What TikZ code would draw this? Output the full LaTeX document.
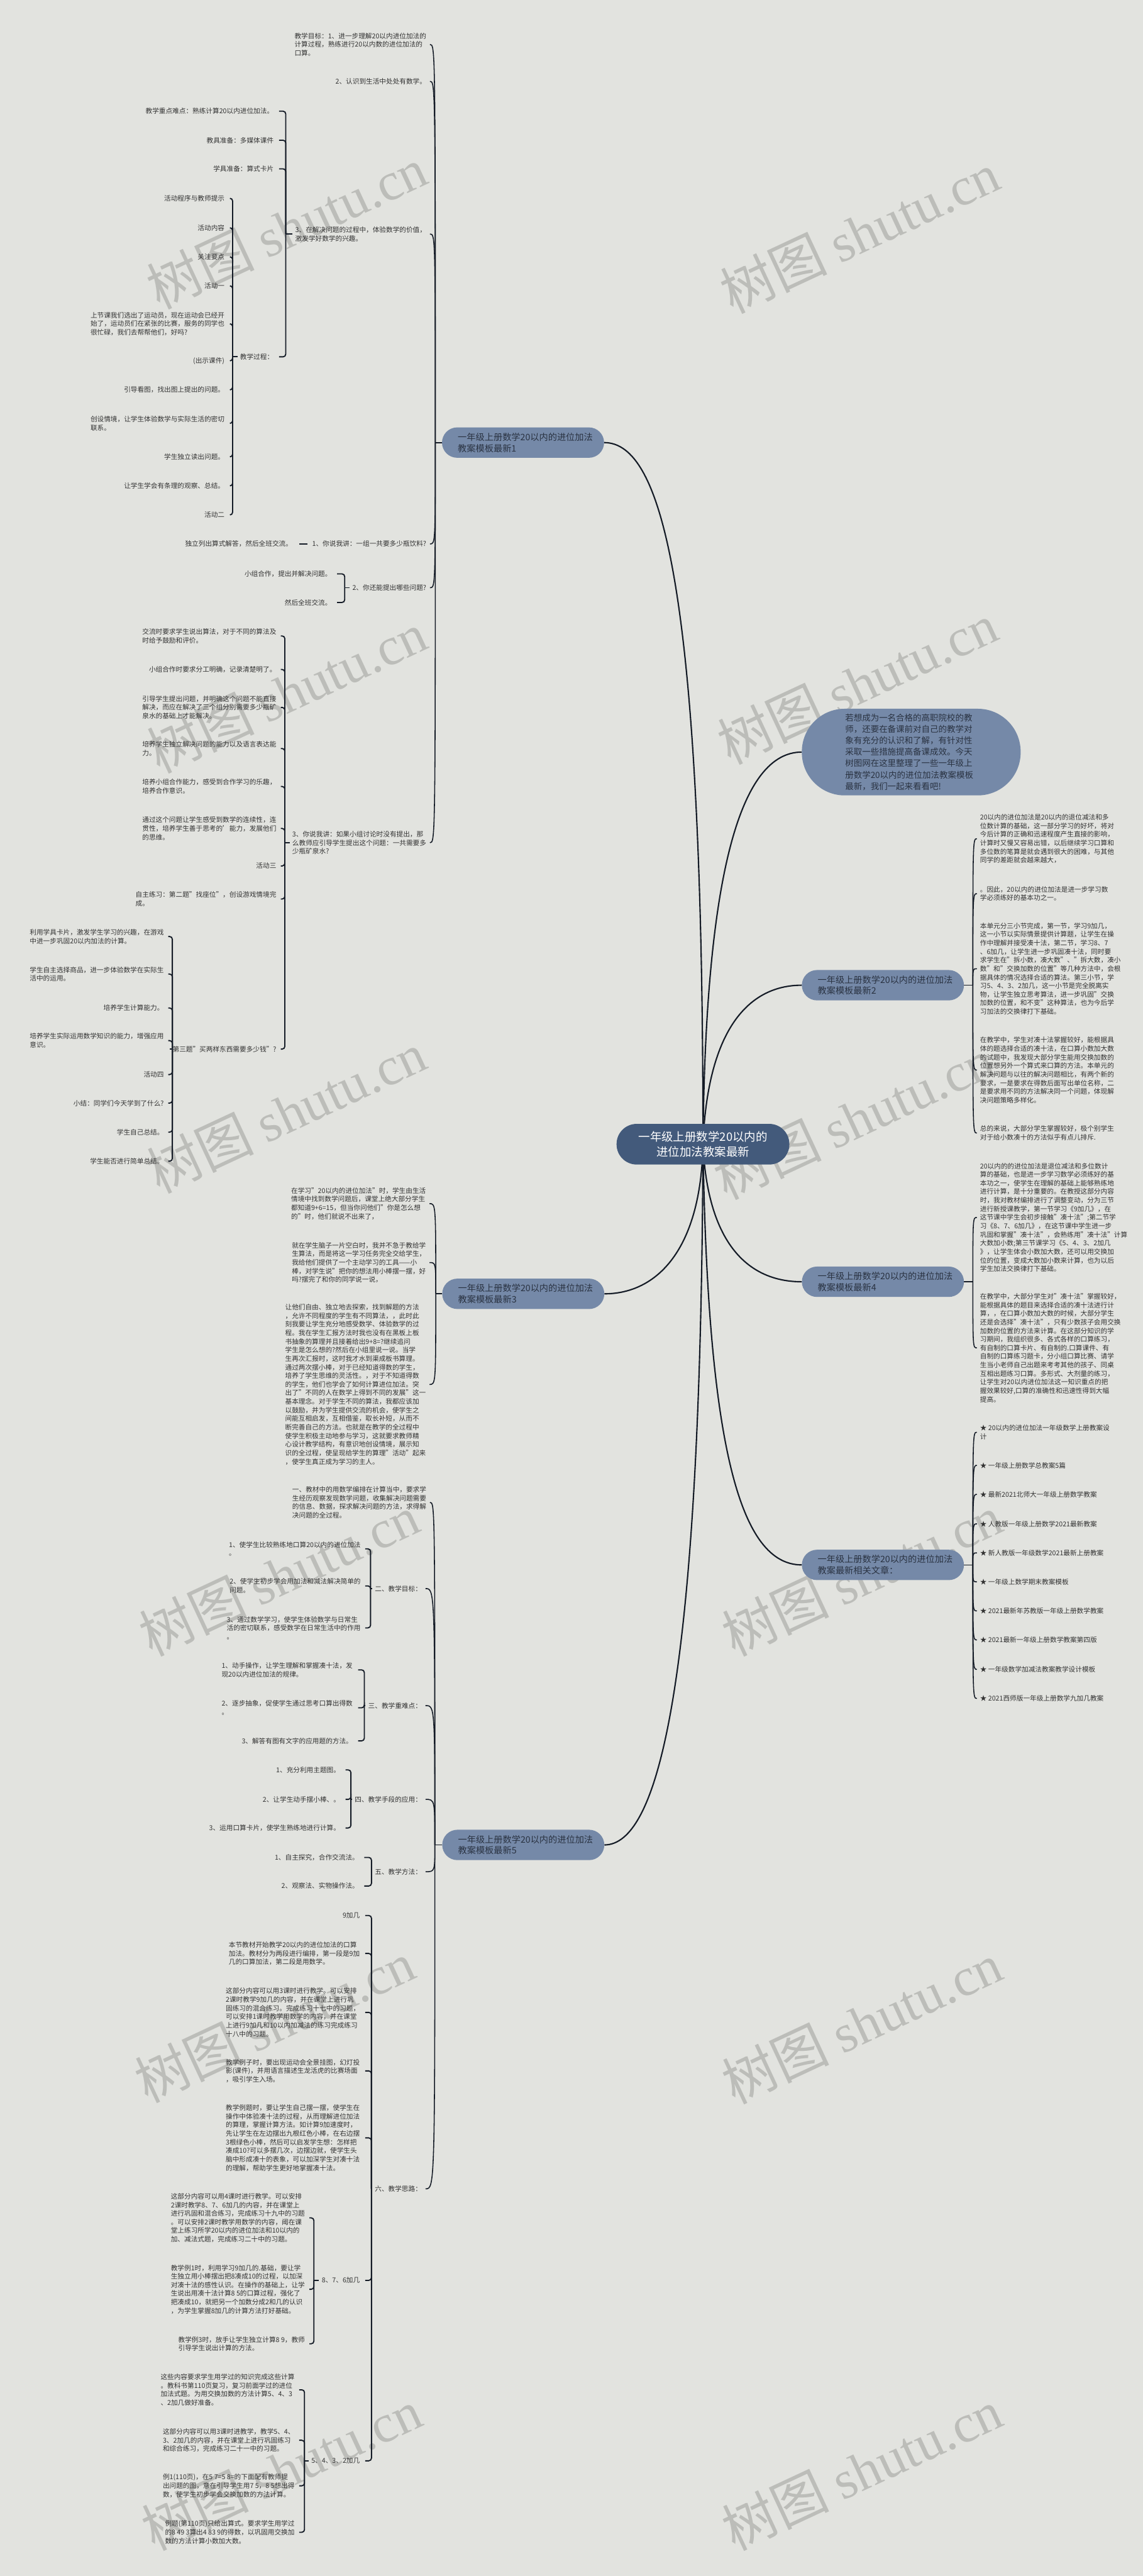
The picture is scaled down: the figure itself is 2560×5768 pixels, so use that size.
\documentclass[tikz,border=0pt]{standalone}
\usepackage{fontspec}
\setmainfont{Noto Sans CJK SC}
\newfontfamily\wmserif{Liberation Serif}
\usetikzlibrary{calc}
\definecolor{bgc}{HTML}{E2E3DF}
\definecolor{brc}{HTML}{7589A8}
\definecolor{rootc}{HTML}{435A7B}
\definecolor{linec}{HTML}{141B26}
\definecolor{txtc}{HTML}{333333}
\definecolor{btxt}{HTML}{2A3342}
\definecolor{wmc}{HTML}{BCBDB9}
\newcommand\leaffont{\fontsize{15pt}{19.2pt}\selectfont}
\newcommand\brfont{\fontsize{20pt}{25pt}\selectfont}
\newcommand\rootfont{\fontsize{26pt}{34pt}\selectfont}
\newcommand\introfont{\fontsize{19pt}{25.5pt}\selectfont}
\newcommand\wmkfont{\fontsize{120pt}{120pt}\selectfont}
\pgfdeclarelayer{wm}\pgfdeclarelayer{back}
\pgfsetlayers{wm,back,main}
\begin{document}
\begin{tikzpicture}[x=1pt,y=-1pt,
  L/.style={anchor=east,align=left,inner sep=0pt,text=txtc,font=\leaffont},
  R/.style={anchor=west,align=left,inner sep=0pt,text=txtc,font=\leaffont},
  bnode/.style={fill=brc,rounded corners=34pt,minimum width=363pt,minimum height=68pt,text width=292pt,align=left,font=\brfont,text=btxt,inner sep=0pt},
  rootn/.style={fill=rootc,rounded corners=45pt,minimum width=387pt,minimum height=91pt,align=center,font=\rootfont,text=white,inner sep=0pt},
  intron/.style={fill=brc,rounded corners=96pt,minimum width=490pt,minimum height=194pt,text width=296pt,align=left,font=\introfont,text=btxt,inner sep=0pt},
  lf/.style={line width=2.2pt,draw=linec},
  br/.style={line width=2.6pt,draw=linec,rounded corners=6pt},
  mainln/.style={line width=3pt,draw=linec},
  wmark/.style={rotate=25,text=wmc,font=\wmkfont,inner sep=0pt}
]
\begin{pgfonlayer}{wm}
\fill[bgc] (0,0) rectangle (2560,5768);
\foreach \x/\y [count=\i] in {642/510,1925/520,642/1550,1920/1530,641/2490,1912/2505,625/3527,1930/3527,615/4527,1930/4530,630/5530,1930/5530}
  \node[wmark] (wm\i) at (\x,\y) {树图 {\wmserif shutu.cn}};
\end{pgfonlayer}
\useasboundingbox (0,0) rectangle (2560,5768);

% ---------- main nodes ----------
\node[rootn] (root) at (1574.5,2562) {一年级上册数学20以内的\\进位加法教案最新};
\node[intron] (intro) at (2041,1684) {若想成为一名合格的高职院校的教\\师，还要在备课前对自己的教学对\\象有充分的认识和了解，有针对性\\采取一些措施提高备课成效。今天\\树图网在这里整理了一些一年级上\\册数学20以内的进位加法教案模板\\最新，我们一起来看看吧!};
\node[bnode] (b1) at (1171.5,991) {一年级上册数学20以内的进位加法\\教案模板最新1};
\node[bnode] (b3) at (1172,2897) {一年级上册数学20以内的进位加法\\教案模板最新3};
\node[bnode] (b5) at (1172,4131) {一年级上册数学20以内的进位加法\\教案模板最新5};
\node[bnode] (b2) at (1977.5,2206) {一年级上册数学20以内的进位加法\\教案模板最新2};
\node[bnode] (b4) at (1977.5,2870) {一年级上册数学20以内的进位加法\\教案模板最新4};
\node[bnode] (b6) at (1977.5,3504) {一年级上册数学20以内的进位加法\\教案最新相关文章：};

% ---------- branch 1 ----------
\node[L] (a1) at (955,99.5) {教学目标：1、进一步理解20以内进位加法的\\计算过程，熟练进行20以内数的进位加法的\\口算。};
\node[L] (a2) at (955,182) {2、认识到生活中处处有数学。};
\node[L] (a3) at (955,524) {3、在解决问题的过程中，体验数学的价值，\\激发学好数学的兴趣。};
\node[L] (a4) at (955,1218) {1、你说我讲：一组一共要多少瓶饮料?};
\node[L] (a5) at (955,1316) {2、你还能提出哪些问题?};
\node[L] (a6) at (955,1887) {3、你说我讲：如果小组讨论时没有提出，那\\么教师应引导学生提出这个问题：一共需要多\\少瓶矿泉水?};

\node[L] (a31) at (613,249) {教学重点难点：熟练计算20以内进位加法。};
\node[L] (a32) at (613,314) {教具准备：多媒体课件};
\node[L] (a33) at (613,378) {学具准备：算式卡片};
\node[L] (a34) at (613,799) {教学过程：};

\node[L] (p1) at (503,444) {活动程序与教师提示};
\node[L] (p2) at (503,510) {活动内容};
\node[L] (p3) at (503,575) {关注要点};
\node[L] (p4) at (503,640) {活动一};
\node[L] (p5) at (503,725) {上节课我们选出了运动员，现在运动会已经开\\始了，运动员们在紧张的比赛，服务的同学也\\很忙碌，我们去帮帮他们，好吗?};
\node[L] (p6) at (503,808) {(出示课件)};
\node[L] (p7) at (503,873) {引导看图，找出图上提出的问题。};
\node[L] (p8) at (503,948) {创设情境，让学生体验数学与实际生活的密切\\联系。};
\node[L] (p9) at (503,1023) {学生独立读出问题。};
\node[L] (p10) at (503,1088) {让学生学会有条理的观察、总结。};
\node[L] (p11) at (503,1153) {活动二};

\node[L] (a41) at (655,1218) {独立列出算式解答，然后全班交流。};
\node[L] (a51) at (743,1285) {小组合作，提出并解决问题。};
\node[L] (a52) at (743,1349) {然后全班交流。};

\node[L] (q1) at (619,1424) {交流时要求学生说出算法，对于不同的算法及\\时给予鼓励和评价。};
\node[L] (q2) at (619,1499) {小组合作时要求分工明确，记录清楚明了。};
\node[L] (q3) at (619,1584) {引导学生提出问题，并明确这个问题不能直接\\解决，而应在解决了三个组分别需要多少瓶矿\\泉水的基础上才能解决。};
\node[L] (q4) at (619,1676) {培养学生独立解决问题的能力以及语言表达能\\力。};
\node[L] (q5) at (619,1761) {培养小组合作能力，感受到合作学习的乐趣，\\培养合作意识。};
\node[L] (q6) at (619,1855) {通过这个问题让学生感受到数学的连续性，连\\贯性，培养学生善于思考的'能力，发展他们\\的思维。};
\node[L] (q7) at (619,1939) {活动三};
\node[L] (q8) at (619,2013) {自主练习：第二题"找座位"，创设游戏情境完\\成。};
\node[L] (q9) at (619,2349) {第三题"买两样东西需要多少钱"?};

\node[L] (r1) at (367,2097) {利用学具卡片，激发学生学习的兴趣，在游戏\\中进一步巩固20以内加法的计算。};
\node[L] (r2) at (367,2181) {学生自主选择商品，进一步体验数学在实际生\\活中的运用。};
\node[L] (r3) at (367,2257) {培养学生计算能力。};
\node[L] (r4) at (367,2330) {培养学生实际运用数学知识的能力，增强应用\\意识。};
\node[L] (r5) at (367,2406) {活动四};
\node[L] (r6) at (367,2470) {小结：同学们今天学到了什么?};
\node[L] (r7) at (367,2535) {学生自己总结。};
\node[L] (r8) at (367,2600) {学生能否进行简单总结。};

% ---------- branch 3 ----------
\node[L] (d1) at (954,2695) {在学习"20以内的进位加法"时，学生由生活\\情境中找到数学问题后，课堂上绝大部分学生\\都知道9+6=15，但当你问他们"你是怎么想\\的"时，他们就说不出来了，};
\node[L] (d2) at (954,2827) {就在学生脑子一片空白时，我并不急于教给学\\生算法，而是将这一学习任务完全交给学生，\\我给他们提供了一个主动学习的工具——小\\棒，对学生说"把你的想法用小棒摆一摆，好\\吗?摆完了和你的同学说一说，};
\node[L] (d3) at (954,3100) {让他们自由、独立地去探索，找到解题的方法\\，允许不同程度的学生有不同算法，，此时此\\刻我要让学生充分地感受数学、体验数学的过\\程。我在学生汇报方法时我也没有在黑板上板\\书抽象的算理并且接着给出9+8=?继续追问\\学生是怎么想的?然后在小组里说一说。当学\\生再次汇报时，这时我才水到渠成板书算理。\\通过两次摆小棒，对于已经知道得数的学生，\\培养了学生思维的灵活性。，对于不知道得数\\的学生，他们也学会了如何计算进位加法。突\\出了"不同的人在数学上得到不同的发展"这一\\基本理念。对于学生不同的算法，我都应该加\\以鼓励，并为学生提供交流的机会，使学生之\\间能互相启发，互相借鉴，取长补短，从而不\\断完善自己的方法。也就是在教学的全过程中\\使学生积极主动地参与学习，这就要求教师精\\心设计教学结构，有意识地创设情境，展示知\\识的全过程，使呈现给学生的算理"活动"起来\\，使学生真正成为学习的主人。};

% ---------- branch 5 ----------
\node[L] (c1) at (955,3364) {一、教材中的用数学编排在计算当中，要求学\\生经历观察发现数学问题，收集解决问题需要\\的信息、数据，探求解决问题的方法，求得解\\决问题的全过程。};
\node[L] (c2) at (945,3557) {二、教学目标：};
\node[L] (c3) at (945,3819) {三、教学重难点：};
\node[L] (c4) at (945,4029) {四、教学手段的应用：};
\node[L] (c5) at (945,4191) {五、教学方法：};
\node[L] (c6) at (945,4901) {六、教学思路：};

\node[L] (c21) at (808,3468) {1、使学生比较熟练地口算20以内的进位加法\\。};
\node[L] (c22) at (808,3551) {2、使学生初步学会用加法和减法解决简单的\\问题。};
\node[L] (c23) at (808,3645) {3、通过数学学习，使学生体验数学与日常生\\活的密切联系，感受数学在日常生活中的作用\\。};
\node[L] (c31) at (790,3739) {1、动手操作，让学生理解和掌握凑十法，发\\现20以内进位加法的规律。};
\node[L] (c32) at (790,3824) {2、逐步抽象，促使学生通过思考口算出得数\\。};
\node[L] (c33) at (790,3898) {3、解答有图有文字的应用题的方法。};
\node[L] (c41) at (762,3963) {1、充分利用主题图。};
\node[L] (c42) at (762,4029) {2、让学生动手摆小棒、。};
\node[L] (c43) at (762,4093) {3、运用口算卡片，使学生熟练地进行计算。};
\node[L] (c51) at (804,4159) {1、自主探究，合作交流法。};
\node[L] (c52) at (804,4223) {2、观察法、实物操作法。};

\node[L] (c61) at (806,4289) {9加几};
\node[L] (c62) at (806,4374) {本节教材开始教学20以内的进位加法的口算\\加法。教材分为两段进行编排，第一段是9加\\几的口算加法，第二段是用数学。};
\node[L] (c63) at (806,4506) {这部分内容可以用3课时进行教学。可以安排\\2课时教学9加几的内容，并在课堂上进行巩\\固练习的混合练习。完成练习十七中的习题，\\可以安排1课时教学用数学的内容，并在课堂\\上进行9加几和10以内加减法的练习完成练习\\十八中的习题。};
\node[L] (c64) at (806,4637) {教学例子时，要出现运动会全景挂图，幻灯投\\影(课件)，并用语言描述生龙活虎的比赛场面\\，吸引学生入场。};
\node[L] (c65) at (806,4787) {教学例题时，要让学生自己摆一摆，使学生在\\操作中体验凑十法的过程，从而理解进位加法\\的算理，掌握计算方法。如计算9加速度时，\\先让学生在左边摆出九根红色小棒，在右边摆\\3根绿色小棒，然后可以启发学生想：怎样把\\凑成10?可以多摆几次，边摆边就，使学生头\\脑中形成凑十的表象，可以加深学生对凑十法\\的理解，帮助学生更好地掌握凑十法。};
\node[L] (c66) at (806,5106) {8、7、6加几};
\node[L] (c67) at (806,5510) {5、4、3、2加几};

\node[L] (e1) at (683,4966) {这部分内容可以用4课时进行教学。可以安排\\2课时教学8、7、6加几的内容，并在课堂上\\进行巩固和混合练习，完成练习十九中的习题\\。可以安排2课时教学用数学的内容，阈在课\\堂上练习所学20以内的进位加法和10以内的\\加、减法式题，完成练习二十中的习题。};
\node[L] (e2) at (683,5126) {教学例1时，利用学习9加几的.基础，要让学\\生独立用小棒摆出把8凑成10的过程，以加深\\对凑十法的感性认识。在操作的基础上，让学\\生说出用凑十法计算8 5的口算过程，强化了\\把凑成10，就把另一个加数分成2和几的认识\\，为学生掌握8加几的计算方法打好基础。};
\node[L] (e3) at (683,5248) {教学例3时，放手让学生独立计算8 9，教师\\引导学生说出计算的方法。};

\node[L] (f1) at (660,5351) {这些内容要求学生用学过的知识完成这些计算\\。教科书第110页复习，复习前面学过的进位\\加法式题。为用交换加数的方法计算5、4、3\\、2加几做好准备。};
\node[L] (f2) at (660,5464) {这部分内容可以用3课时进教学，教学5、4、\\3、2加几的内容，并在课堂上进行巩固练习\\和综合练习，完成练习二十一中的习题。};
\node[L] (f3) at (660,5566) {例1(110页)，在5 7=5 8=的下面配有教师提\\出问题的图，意在引导学生用7 5，8 5想出得\\数，使学生初步学会交换加数的方法计算。};
\node[L] (f4) at (660,5670) {例题(第110页)只给出算式。要求学生用学过\\的8 49 3算出4 83 9的得数，以巩固用交换加\\数的方法计算小数加大数。};

% ---------- branch 2 ----------
\node[R] (g1) at (2195,1878) {20以内的进位加法是20以内的退位减法和多\\位数计算的基础，这一部分学习的好坏，将对\\今后计算的正确和迅速程度产生直接的影响，\\计算时又慢又容易出错，以后继续学习口算和\\多位数的笔算是就会遇到很大的困难，与其他\\同学的差距就会越来越大，};
\node[R] (g2) at (2195,2001) {。因此，20以内的进位加法是进一步学习数\\学必须练好的基本功之一。};
\node[R] (g3) at (2195,2169) {本单元分三小节完成，第一节，学习9加几，\\这一小节以实际情景提供计算题，让学生在操\\作中理解并接受凑十法，第二节，学习8、7\\、6加几，让学生进一步巩固凑十法，同时要\\求学生在"拆小数，凑大数"、"拆大数，凑小\\数"和"交换加数的位置"等几种方法中，会根\\据具体的情况选择合适的算法。第三小节，学\\习5、4、3、2加几，这一小节是完全脱离实\\物，让学生独立思考算法，进一步巩固"交换\\加数的位置，和不变"这种算法，也为今后学\\习加法的交换律打下基础。};
\node[R] (g4) at (2195,2396) {在教学中，学生对凑十法掌握较好，能根据具\\体的题选择合适的凑十法，在口算小数加大数\\的试题中，我发现大部分学生能用交换加数的\\位置想另外一个算式来口算的方法。本单元的\\解决问题与以往的解决问题相比，有两个新的\\要求，一是要求在得数后面写出单位名称，二\\是要求用不同的方法解决同一个问题，体现解\\决问题策略多样化。};
\node[R] (g5) at (2195,2537) {总的来说，大部分学生掌握较好，极个别学生\\对于给小数凑十的方法似乎有点儿排斥.};

% ---------- branch 4 ----------
\node[R] (h1) at (2195,2726) {20以内的的进位加法是退位减法和多位数计\\算的基础，也是进一步学习数学必须练好的基\\本功之一，使学生在理解的基础上能够熟练地\\进行计算，是十分重要的。在教授这部分内容\\时，我对教材编排进行了调整变动，分为三节\\进行新授课教学，第一节学习《9加几》，在\\这节课中学生会初步接触"凑十法";第二节学\\习《8、7、6加几》，在这节课中学生进一步\\巩固和掌握"凑十法"，会熟练用"凑十法"计算\\大数加小数;第三节课学习《5、4、3、2加几\\》，让学生体会小数加大数，还可以用交换加\\位的位置，变成大数加小数来计算，也为以后\\学生加法交换律打下基础。};
\node[R] (h2) at (2195,3018) {在教学中，大部分学生对"凑十法"掌握较好，\\能根据具体的题目来选择合适的凑十法进行计\\算，，在口算小数加大数的时候，大部分学生\\还是会选择"凑十法"，只有少数孩子会用交换\\加数的位置的方法来计算。在这部分知识的学\\习期间，我组织很多、各式各样的口算练习，\\有自制的口算卡片、有自制的.口算课件、有\\自制的口算练习题卡，分小组口算比赛、请学\\生当小老师自己出题来考考其他的孩子、同桌\\互相出题练习口算。多形式、大剂量的练习，\\让学生对20以内进位加法这一知识重点的把\\握效果较好,口算的准确性和迅速性得到大幅\\提高。};

% ---------- branch 6 ----------
\node[R] (k1) at (2195,3207) {★ 20以内的进位加法一年级数学上册教案设\\计};
\node[R] (k2) at (2195,3281) {★ 一年级上册数学总教案5篇};
\node[R] (k3) at (2195,3346) {★ 最新2021北师大一年级上册数学教案};
\node[R] (k4) at (2195,3412) {★ 人教版一年级上册数学2021最新教案};
\node[R] (k5) at (2195,3477) {★ 新人教版一年级数学2021最新上册教案};
\node[R] (k6) at (2195,3542) {★ 一年级上数学期末教案模板};
\node[R] (k7) at (2195,3607) {★ 2021最新年苏教版一年级上册数学教案};
\node[R] (k8) at (2195,3672) {★ 2021最新一年级上册数学教案第四版};
\node[R] (k9) at (2195,3738) {★ 一年级数学加减法教案教学设计模板};
\node[R] (k10) at (2195,3803) {★ 2021西师版一年级上册数学九加几教案};

% ---------- connectors ----------
\begin{pgfonlayer}{back}
\draw[mainln] (root.center) .. controls (1575,1300) and (1480,991) .. (b1.east);
\draw[mainln] (root.center) .. controls (1570,2800) and (1470,2897) .. (b3.east);
\draw[mainln] (root.center) .. controls (1570,3800) and (1470,4131) .. (b5.east);
\draw[mainln] (root.center) .. controls (1580,1950) and (1660,1684) .. (intro.west);
\draw[mainln] (root.center) .. controls (1585,2300) and (1680,2206) .. (b2.west);
\draw[mainln] (root.center) .. controls (1585,2790) and (1680,2870) .. (b4.west);
\draw[mainln] (root.center) .. controls (1585,3250) and (1660,3504) .. (b6.west);

% branch-level curves, left side
\coordinate (S1) at (975,0);
\draw[lf] (b1.west) -- (b1.west -| S1);
\foreach \c in {a1,a2,a3,a4,a5,a6}
  \draw[lf] (b1.west -| S1) .. controls (S1 |- \c.east) and (S1 |- \c.east) .. ([xshift=8pt]\c.east);
\coordinate (S3) at (976,0);
\draw[lf] (b3.west) -- (b3.west -| S3);
\foreach \c in {d1,d2,d3}
  \draw[lf] (b3.west -| S3) .. controls (S3 |- \c.east) and (S3 |- \c.east) .. ([xshift=8pt]\c.east);
\coordinate (S5) at (974,0);
\draw[lf] (b5.west) -- (b5.west -| S5);
\foreach \c in {c1,c2,c3,c4,c5,c6}
  \draw[lf] (b5.west -| S5) .. controls (S5 |- \c.east) and (S5 |- \c.east) .. ([xshift=8pt]\c.east);

% branch-level curves, right side
\coordinate (S2) at (2179,0);
\draw[lf] (b2.east) -- (b2.east -| S2);
\foreach \c in {g1,g2,g3,g4,g5}
  \draw[lf] (b2.east -| S2) .. controls (S2 |- \c.west) and (S2 |- \c.west) .. ([xshift=-7pt]\c.west);
\draw[lf] (b4.east) -- (b4.east -| S2);
\foreach \c in {h1,h2}
  \draw[lf] (b4.east -| S2) .. controls (S2 |- \c.west) and (S2 |- \c.west) .. ([xshift=-7pt]\c.west);
\draw[lf] (b6.east) -- (b6.east -| S2);
\foreach \c in {k1,k2,k3,k4,k5,k6,k7,k8,k9,k10}
  \draw[lf] (b6.east -| S2) .. controls (S2 |- \c.west) and (S2 |- \c.west) .. ([xshift=-7pt]\c.west);

% nested brackets
\coordinate (T3) at (640,0);
\draw[br] ([xshift=-6pt]a3.west) -- (a3.west -| T3);
\foreach \c in {a31,a32,a33,a34} \draw[br] (a3.west -| T3) |- ([xshift=12pt]\c.east);
\coordinate (T34) at (521,0);
\draw[br] ([xshift=-6pt]a34.west) -- (a34.west -| T34);
\foreach \c in {p1,p2,p3,p4,p5,p6,p7,p8,p9,p10,p11} \draw[br] (a34.west -| T34) |- ([xshift=12pt]\c.east);
\draw[br] ([xshift=-10pt]a4.west) -- ([xshift=15pt]a41.east);
\coordinate (T5) at (772,0);
\draw[br] ([xshift=-6pt]a5.west) -- (a5.west -| T5);
\foreach \c in {a51,a52} \draw[br] (a5.west -| T5) |- ([xshift=12pt]\c.east);
\coordinate (T6) at (638,0);
\draw[br] ([xshift=-6pt]a6.west) -- (a6.west -| T6);
\foreach \c in {q1,q2,q3,q4,q5,q6,q7,q8,q9} \draw[br] (a6.west -| T6) |- ([xshift=10pt]\c.east);
\coordinate (T9) at (386,0);
\draw[br] ([xshift=-6pt]q9.west) -- (q9.west -| T9);
\foreach \c in {r1,r2,r3,r4,r5,r6,r7,r8} \draw[br] (q9.west -| T9) |- ([xshift=10pt]\c.east);

\coordinate (U2) at (830,0);
\draw[br] ([xshift=-6pt]c2.west) -- (c2.west -| U2);
\foreach \c in {c21,c22,c23} \draw[br] (c2.west -| U2) |- ([xshift=10pt]\c.east);
\coordinate (U3) at (816,0);
\draw[br] ([xshift=-6pt]c3.west) -- (c3.west -| U3);
\foreach \c in {c31,c32,c33} \draw[br] (c3.west -| U3) |- ([xshift=12pt]\c.east);
\coordinate (U4) at (786,0);
\draw[br] ([xshift=-6pt]c4.west) -- (c4.west -| U4);
\foreach \c in {c41,c42,c43} \draw[br] (c4.west -| U4) |- ([xshift=12pt]\c.east);
\coordinate (U5) at (832,0);
\draw[br] ([xshift=-6pt]c5.west) -- (c5.west -| U5);
\foreach \c in {c51,c52} \draw[br] (c5.west -| U5) |- ([xshift=12pt]\c.east);
\coordinate (U6) at (832,0);
\draw[br] ([xshift=-6pt]c6.west) -- (c6.west -| U6);
\foreach \c in {c61,c62,c63,c64,c65,c66,c67} \draw[br] (c6.west -| U6) |- ([xshift=12pt]\c.east);
\coordinate (U66) at (703,0);
\draw[br] ([xshift=-6pt]c66.west) -- (c66.west -| U66);
\foreach \c in {e1,e2,e3} \draw[br] (c66.west -| U66) |- ([xshift=10pt]\c.east);
\coordinate (U67) at (682,0);
\draw[br] ([xshift=-6pt]c67.west) -- (c67.west -| U67);
\foreach \c in {f1,f2,f3,f4} \draw[br] (c67.west -| U67) |- ([xshift=10pt]\c.east);
\end{pgfonlayer}
\end{tikzpicture}
\end{document}
